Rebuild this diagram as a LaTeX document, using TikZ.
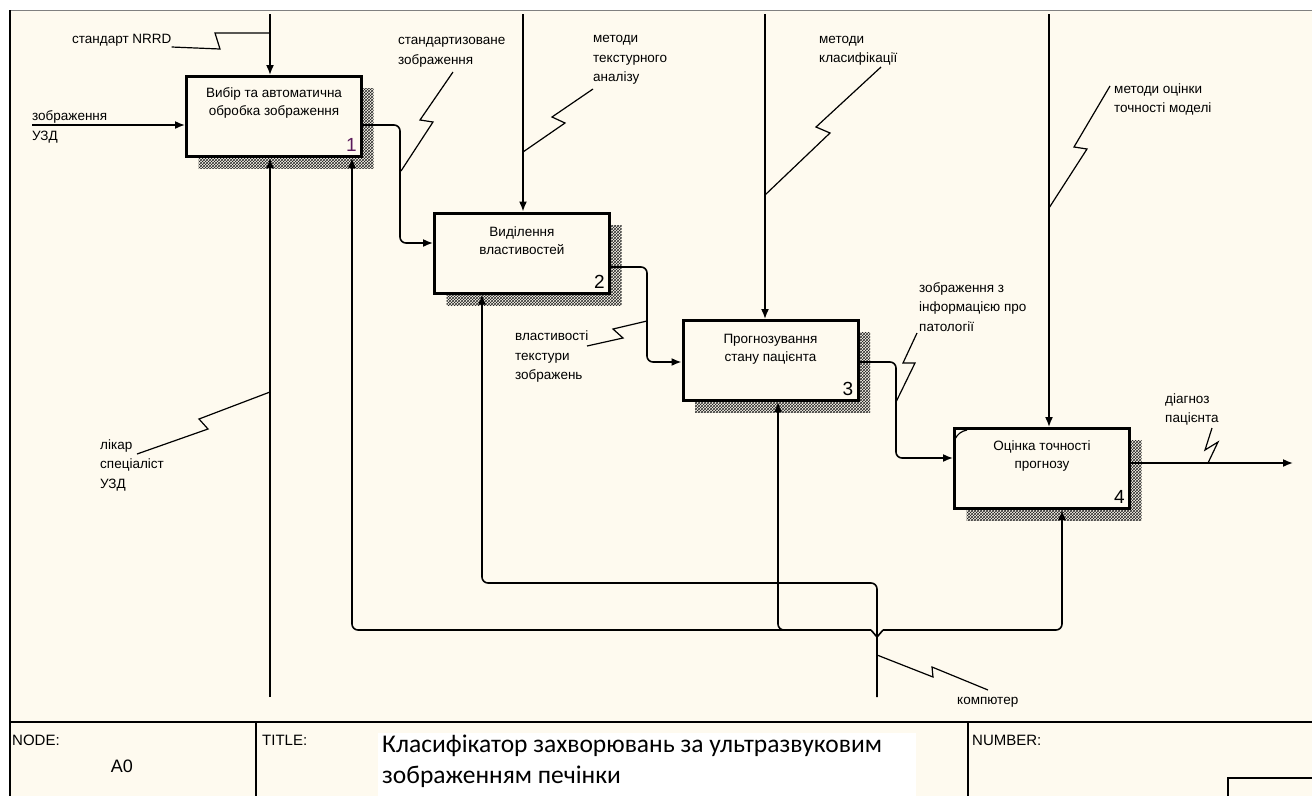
\documentclass[tikz,border=0pt]{standalone}
\usepackage{fontspec}
\setmainfont{Liberation Sans}
\newfontfamily\titlefont{Carlito}
\usepackage{tikz}
\usetikzlibrary{shapes,arrows,arrows.meta}
\usetikzlibrary{calc,patterns}
\definecolor{paper}{RGB}{254,250,239}
\definecolor{numpurple}{RGB}{90,25,90}
\tikzstyle{funcblock} = [rectangle, draw, line width=3pt, fill=paper, minimum width=175pt,
    minimum height=80pt, inner sep=0pt,
    preaction={draw=none, pattern=crosshatch, pattern color=black!85,
    transform canvas={shift={(12pt,-12pt)}}}]
\tikzstyle{blocktext} = [font=\fontsize{13.5}{18.5}\selectfont, align=center, inner sep=0pt]
\tikzstyle{blocknum} = [font=\fontsize{19}{19}\selectfont, anchor=south east, inner sep=0pt]
\tikzstyle{lbl} = [font=\fontsize{13.5}{19.5}\selectfont, align=left, anchor=west, inner sep=0pt]
\tikzstyle{line} = [draw, line width=1.6pt, -{Latex[length=10pt,width=8pt]}]
\tikzstyle{squiggle} = [draw, line width=1.2pt]
\tikzstyle{frameline} = [draw, line width=1.5pt]

\begin{document}
\begin{tikzpicture}[x=1pt,y=-1pt]
    % sheet
    \useasboundingbox (0,0) rectangle (1312,796);
    \fill[white] (0,0) rectangle (1312,796);
    \fill[paper] (10,10) rectangle (1312,796);
    \draw[gray, line width=1pt] (10,10) -- (1312,10);
    \draw[line width=2pt] (10,10) -- (10,796);
    \fill[white] (378,733) rectangle (916,796);
    \path[frameline] (10,722) -- (1312,722);
    \path[frameline] (256,722) -- (256,796);
    \path[frameline] (968,722) -- (968,796);
    \path[frameline] (1312,778) -| (1228,796);
    \node [lbl, font=\fontsize{15}{15}\selectfont] (nodehd) at (12,740) {NODE:};
    \node [font=\fontsize{18}{18}\selectfont] (nodeid) at (122,766) {A0};
    \node [lbl, font=\fontsize{15}{15}\selectfont] (titlehd) at (262,740) {TITLE:};
    \node [lbl, font=\titlefont\fontsize{25.5}{31}\selectfont] (title) at (382,761.5)
        {Класифікатор захворювань за ультразвуковим\\зображенням печінки};
    \node [lbl, font=\fontsize{15}{15}\selectfont] (numberhd) at (972,740) {NUMBER:};

    % activity boxes
    \node [funcblock] (select) at (274,116.5) {};
    \node [blocktext] (selecttxt) at ([yshift=-28pt]select.north) {Вибір та автоматична\\обробка зображення};
    \node [blocknum, text=numpurple] (selectnum) at ([xshift=-6pt,yshift=6pt]select.south east) {1};
    \node [funcblock] (features) at (522,253) {};
    \node [blocktext] (featurestxt) at ([yshift=-29pt]features.north) {Виділення\\властивостей};
    \node [blocknum] (featuresnum) at ([xshift=-6pt,yshift=6pt]features.south east) {2};
    \node [funcblock] (forecast) at (770.5,360.5) {};
    \node [blocktext] (forecasttxt) at ([yshift=-30pt]forecast.north) {Прогнозування\\стану пацієнта};
    \node [blocknum] (forecastnum) at ([xshift=-6pt,yshift=6pt]forecast.south east) {3};
    \node [funcblock] (accuracy) at (1042,468.5) {};
    \node [blocktext] (accuracytxt) at ([yshift=-29pt]accuracy.north) {Оцінка точності\\прогнозу};
    \node [blocknum] (accuracynum) at ([xshift=-6pt,yshift=6pt]accuracy.south east) {4};
    \draw[line width=1.2pt] (955,439) to[bend left=25] (967,430);

    % arrow labels
    \node [lbl] (nrrd) at (72,40) {стандарт NRRD};
    \node [lbl] (uzd) at (32,127) {зображення\\УЗД};
    \node [lbl] (stdimg) at (398,52.5) {стандартизоване\\зображення};
    \node [lbl] (texture) at (593,60) {методи\\текстурного\\аналізу};
    \node [lbl] (classif) at (819,51) {методи\\класифікації};
    \node [lbl] (estim) at (1114,99.5) {методи оцінки\\точності моделі};
    \node [lbl] (props) at (515,357) {властивості\\текстури\\зображень};
    \node [lbl] (pathol) at (919,307) {зображення з\\інформацією про\\патології};
    \node [lbl] (diagn) at (1165,409.5) {діагноз\\пацієнта};
    \node [lbl] (doctorlbl) at (100,465) {лікар\\спеціаліст\\УЗД};
    \node [lbl] (pclbl) at (957,702) {компютер};

    % Draw edges
    \coordinate (ctl1) at (270,14);
    \coordinate (ctl2) at (523,14);
    \coordinate (ctl3) at (765,14);
    \coordinate (ctl4) at (1049,14);
    \path[line] (ctl1) -- (ctl1 |- select.north);
    \path[line] (ctl2) -- (ctl2 |- features.north);
    \path[line] (ctl3) -- (ctl3 |- forecast.north);
    \path[line] (ctl4) -- (ctl4 |- accuracy.north);
    \coordinate (imgin) at (32,125);
    \coordinate (result) at (1293,463);
    \path[line] (imgin) -- (imgin -| select.west);
    \path[line, rounded corners=6pt] (select.east |- imgin) -| (400,243) -- (features.west |- 0,243);
    \path[line, rounded corners=6pt] (features.east |- 0,267) -| (647,362) -- (forecast.west |- 0,362);
    \path[line, rounded corners=6pt] (forecast.east |- 0,362) -| (896,458) -- (accuracy.west |- 0,458);
    \path[line] (accuracy.east |- result) -- (result);
    \coordinate (doctor) at (270,697);
    \coordinate (pc) at (877,697);
    \path[line] (doctor) -- (doctor |- select.south);
    \path[line, rounded corners=6pt] (pc) |- (482,583) -- (482,0 |- features.south);
    \draw[line width=1.6pt] (871,630) -- (877,637) -- (883,630);
    \path[line, rounded corners=6pt] (871,630) -| (352,0 |- select.south);
    \path[line, rounded corners=6pt] (883,630) -| (1062,0 |- accuracy.south);
    \path[line, rounded corners=6pt] (795,630) -| (778,0 |- forecast.south);

    % squiggles
    \path[squiggle] (nrrd.east |- 0,47) -- (220,49) -- (215,33) -- (ctl1 |- 0,33);
    \path[squiggle] (453,72) -- (420,120) -- (433,122) -- (401,171);
    \path[squiggle] (593,89) -- (552,117) -- (565,123) -- (ctl2 |- 0,152);
    \path[squiggle] (881,67) -- (816,127) -- (830,133) -- (ctl3 |- 0,195);
    \path[squiggle] (1110,86) -- (1074,147) -- (1087,149) -- (ctl4 |- 0,208);
    \path[squiggle] (587,346) -- (623,338) -- (613,329) -- (647,321);
    \path[squiggle] (917,333) -- (903,363) -- (915,363) -- (896,402);
    \path[squiggle] (1212,428) -- (1205,450) -- (1218,442) -- (1208,463);
    \path[squiggle] (137,454) -- (208,429) -- (199,419) -- (doctor |- 0,392);
    \path[squiggle] (pc |- 0,655) -- (933,677) -- (932,667) -- (988,690);
\end{tikzpicture}
\end{document}
